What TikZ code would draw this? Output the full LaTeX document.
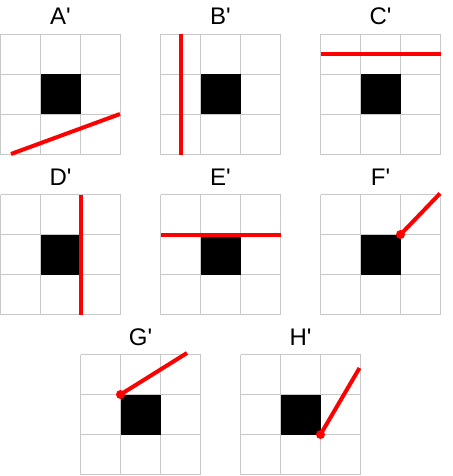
\documentclass[tikz,border=0pt]{standalone}
\usepackage{fontspec}
\setmainfont{Liberation Sans}
\usepackage{xcolor}
\usepackage{tikz}
\definecolor{gridgray}{RGB}{200,200,200}
\newcommand{\tile}[4]{%
  \begin{scope}[shift={(#2,#3)}]
    \foreach \k in {0,40,80,120} {
      \draw[gridline] (\k,0) -- (\k,120);
      \draw[gridline] (0,\k) -- (120,\k);
    }
    \fill[block] (40,40) rectangle (80,80);
    \node[title] (#1) at (60,-9.5) {#4\textquotesingle};
  \end{scope}}

\begin{document}
\begin{tikzpicture}[x=1pt, y=-1pt,
  gridline/.style={draw=gridgray, line width=1pt},
  block/.style={fill=black},
  cut/.style={draw=red, line width=4pt},
  pin/.style={circle, fill=red, inner sep=0pt, minimum size=9pt},
  title/.style={anchor=base, inner sep=0pt, font=\fontsize{24}{28}\selectfont},
]
\useasboundingbox (0,0) rectangle (452,476);

\tile{ta}{0.5}{34.5}{A}
\tile{tb}{160.5}{34.5}{B}
\tile{tc}{320.5}{34.5}{C}
\tile{td}{0.5}{194.5}{D}
\tile{te}{160.5}{194.5}{E}
\tile{tf}{320.5}{194.5}{F}
\tile{tg}{80.5}{354.5}{G}
\tile{th}{240.5}{354.5}{H}

% cut lines
\coordinate (a1) at (11,154);   \coordinate (a2) at (120,114);
\coordinate (b1) at (180.5,34.5); \coordinate (b2) at (180.5,154.5);
\coordinate (c1) at (320.5,54.5); \coordinate (c2) at (440.5,54.5);
\coordinate (d1) at (80.5,194.5); \coordinate (d2) at (80.5,314.5);
\coordinate (e1) at (160.5,234.5); \coordinate (e2) at (280.5,234.5);
\coordinate (f1) at (400.5,234.5); \coordinate (f2) at (440,193.5);
\coordinate (g1) at (120.5,394.5); \coordinate (g2) at (187,353);
\coordinate (h1) at (320.5,434.5); \coordinate (h2) at (359.5,368);

\draw[cut] (a1) -- (a2);
\draw[cut] (b1) -- (b2);
\draw[cut] (c1) -- (c2);
\draw[cut] (d1) -- (d2);
\draw[cut] (e1) -- (e2);
\draw[cut] (f1) -- (f2);
\draw[cut] (g1) -- (g2);
\draw[cut] (h1) -- (h2);

% pivots
\node[pin] (fp) at (f1) {};
\node[pin] (gp) at (g1) {};
\node[pin] (hp) at (h1) {};
\end{tikzpicture}
\end{document}
